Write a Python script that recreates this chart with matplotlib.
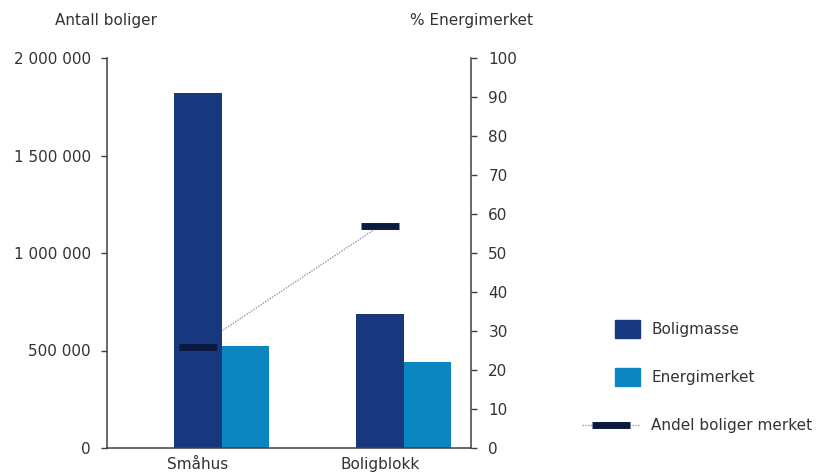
import matplotlib
matplotlib.use("Agg")
import matplotlib.pyplot as plt
from matplotlib.patches import Rectangle
from matplotlib.lines import Line2D
from matplotlib.legend_handler import HandlerPatch
from matplotlib.ticker import FuncFormatter, MultipleLocator

# Data
categories = ["Småhus", "Boligblokk"]
boligmasse = [1820000, 687000]
energimerket = [523000, 440000]
andel_merket = [26, 57]
left_ticks = [0, 500000, 1000000, 1500000, 2000000]

DARK = "#17387f"
LIGHT = "#0b86c0"
MARK = "#0b1a40"
TXT = "#333333"
AXC = "#404040"
FS = 11

plt.rcParams["font.family"] = ["DejaVu Sans"]
plt.rcParams["font.size"] = FS

fig = plt.figure(figsize=(8.17, 4.72), dpi=100)
l, r = 107 / 817, 471 / 817
b, t = 1 - 448 / 472, 1 - 58 / 472

ax2 = fig.add_axes([l, b, r - l, t - b])
ax1 = fig.add_axes([l, b, r - l, t - b], sharex=ax2)
ax1.set_zorder(2)
ax2.set_zorder(1)
ax1.patch.set_visible(False)

x = list(range(len(categories)))
w = 0.26
ax1.bar(x, boligmasse, width=w, color=DARK, zorder=2, label="Boligmasse")
ax1.bar([i + w for i in x], energimerket, width=w, color=LIGHT, zorder=2,
        label="Energimerket")

ax1.set_xlim(-0.5, 1.5)
ax1.set_ylim(0, 2000000)
ax2.set_ylim(0, 100)

# connecting dotted line sits behind the bars
ax2.plot(x, andel_merket, linestyle=(0, (1, 1)), color="#8f97aa", lw=1.0)
# share markers drawn above the bars, in the percent scale
ax1.plot(x, andel_merket, linestyle="none", marker="_", ms=27, mew=5,
         color=MARK, transform=ax2.transData, zorder=5)

# left axis
ax1.set_yticks(left_ticks)
ax1.yaxis.set_major_formatter(FuncFormatter(lambda v, p: f"{int(v):,}".replace(",", " ")))
ax1.tick_params(axis="y", direction="out", length=4.5, width=1, color=AXC,
                pad=7, labelcolor=TXT, labelsize=FS)
ax1.set_xticks(x)
ax1.set_xticklabels(categories)
ax1.tick_params(axis="x", length=0, pad=6.5, labelcolor=TXT, labelsize=FS)
for s in ["top", "right"]:
    ax1.spines[s].set_visible(False)
for s in ["left", "bottom"]:
    ax1.spines[s].set_color(AXC)
    ax1.spines[s].set_linewidth(1.1)

# right axis
ax2.yaxis.tick_right()
ax2.yaxis.set_major_locator(MultipleLocator(10))
ax2.tick_params(axis="y", direction="out", length=4.5, width=1, color=AXC,
                pad=8, labelcolor=TXT, labelsize=FS, left=False, labelleft=False,
                right=True, labelright=True)
ax2.tick_params(axis="x", bottom=False, labelbottom=False)
for s in ["top", "left", "bottom"]:
    ax2.spines[s].set_visible(False)
ax2.spines["right"].set_color(AXC)
ax2.spines["right"].set_linewidth(1.1)

fig.text(55 / 817, 1 - 21 / 472, "Antall boliger", ha="left", va="center",
         color=TXT, fontsize=FS)
fig.text(410 / 817, 1 - 21 / 472, "% Energimerket", ha="left", va="center",
         color=TXT, fontsize=FS)


def small_patch(legend, orig_handle, xdescent, ydescent, width, height, fontsize):
    pw, ph = 18, 13
    return Rectangle((width - pw - xdescent, height / 2 - ph / 2 - ydescent), pw, ph)


h_bm = Rectangle((0, 0), 1, 1, color=DARK)
h_em = Rectangle((0, 0), 1, 1, color=LIGHT)
h_an = Line2D([], [], linestyle=(0, (1, 1)), color="#8f97aa", lw=1.0,
              marker="_", ms=27, mew=5, mec=MARK, mfc=MARK)
leg = fig.legend([h_bm, h_em, h_an],
                 ["Boligmasse", "Energimerket", "Andel boliger merket"],
                 loc="upper left", bbox_to_anchor=(582 / 817, 1 - 322 / 472),
                 frameon=False, handlelength=3.8, handletextpad=0.72,
                 labelspacing=2.17, borderaxespad=0, borderpad=0,
                 numpoints=1, fontsize=FS,
                 handler_map={Rectangle: HandlerPatch(patch_func=small_patch)})
for tx in leg.get_texts():
    tx.set_color(TXT)

fig.savefig("out.png", dpi=100)
